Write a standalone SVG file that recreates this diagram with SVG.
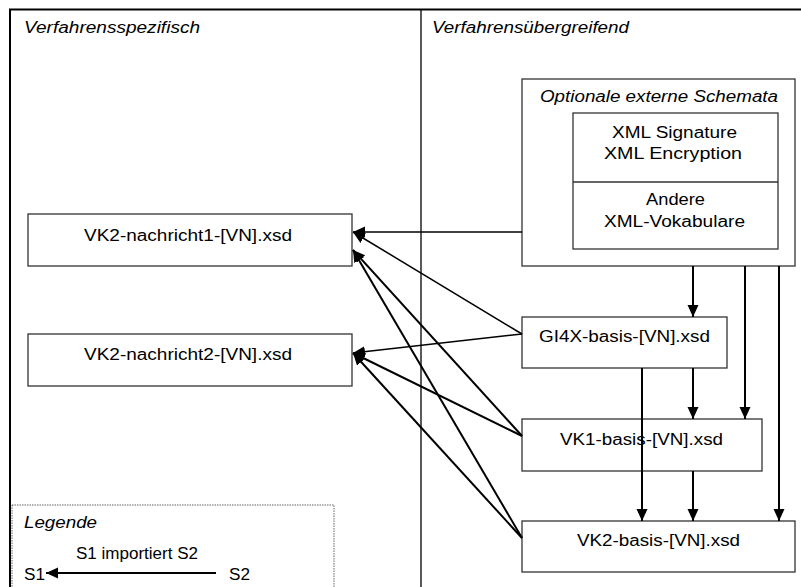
<svg xmlns="http://www.w3.org/2000/svg" width="801" height="587" viewBox="0 0 801 587">
<defs>
<style>
text{font-family:"Liberation Sans",Arial,sans-serif;font-size:16px;fill:#000}
.it{font-style:italic}
.box{fill:#fff;stroke:#333;stroke-width:1.3}
.c{stroke:#000;fill:none;stroke-width:2;marker-end:url(#ah)}
.t{stroke-width:1.5}
</style>
<marker id="ah" markerUnits="userSpaceOnUse" markerWidth="13" markerHeight="12" refX="12" refY="5.5" orient="auto">
<path d="M0,0 L12,5.5 L0,11 Z" fill="#000"/>
</marker>
</defs>
<rect width="801" height="587" fill="#fff"/>
<g id="frame">
<path d="M10,600 V9.5 H820" fill="none" stroke="#000" stroke-width="2"/>
<line x1="421" y1="9" x2="421" y2="600" stroke="#000" stroke-width="1.3"/>
<text class="it" x="24" y="33" textLength="176" lengthAdjust="spacingAndGlyphs">Verfahrensspezifisch</text>
<text class="it" x="432" y="33" textLength="197" lengthAdjust="spacingAndGlyphs">Verfahrensübergreifend</text>
</g>
<g id="optionale">
<rect class="box" x="522" y="79" width="273" height="187"/>
<text class="it" x="540" y="102" textLength="238" lengthAdjust="spacingAndGlyphs">Optionale externe Schemata</text>
<rect class="box" x="573" y="113" width="205" height="136"/>
<line x1="573" y1="182" x2="778" y2="182" stroke="#333" stroke-width="1.3"/>
<text x="612" y="138" textLength="125" lengthAdjust="spacingAndGlyphs">XML Signature</text>
<text x="604" y="159" textLength="138" lengthAdjust="spacingAndGlyphs">XML Encryption</text>
<text x="646" y="205" textLength="59" lengthAdjust="spacingAndGlyphs">Andere</text>
<text x="604" y="227" textLength="141" lengthAdjust="spacingAndGlyphs">XML-Vokabulare</text>
</g>
<g id="nachricht1">
<rect class="box" x="28" y="214" width="324" height="52"/>
<text x="84" y="241" textLength="208" lengthAdjust="spacingAndGlyphs">VK2-nachricht1-[VN].xsd</text>
</g>
<g id="nachricht2">
<rect class="box" x="28" y="334" width="324" height="52"/>
<text x="84" y="360" textLength="208" lengthAdjust="spacingAndGlyphs">VK2-nachricht2-[VN].xsd</text>
</g>
<g id="gi4x">
<rect class="box" x="522" y="317" width="205" height="51"/>
<text x="539" y="342" textLength="171" lengthAdjust="spacingAndGlyphs">GI4X-basis-[VN].xsd</text>
</g>
<g id="vk1">
<rect class="box" x="522" y="419" width="240" height="52"/>
<text x="560" y="445" textLength="163" lengthAdjust="spacingAndGlyphs">VK1-basis-[VN].xsd</text>
</g>
<g id="vk2">
<rect class="box" x="522" y="521" width="273" height="51"/>
<text x="577" y="546" textLength="163" lengthAdjust="spacingAndGlyphs">VK2-basis-[VN].xsd</text>
</g>
<g id="connectors">
<line class="c t" x1="522" y1="232" x2="353" y2="232"/>
<line class="c t" x1="522" y1="334" x2="353" y2="232"/>
<line class="c" x1="522" y1="436" x2="353" y2="250"/>
<line class="c" x1="522" y1="538" x2="353" y2="250"/>
<line class="c t" x1="522" y1="334" x2="353" y2="353"/>
<line class="c" x1="522" y1="436" x2="353" y2="353"/>
<line class="c" x1="522" y1="538" x2="353" y2="353"/>
<line class="c" x1="693" y1="266" x2="693" y2="317"/>
<line class="c" x1="745" y1="266" x2="745" y2="419"/>
<line class="c" x1="779" y1="266" x2="779" y2="521"/>
<line class="c" x1="693" y1="368" x2="693" y2="419"/>
<line class="c" x1="642" y1="368" x2="642" y2="521"/>
<line class="c" x1="693" y1="471" x2="693" y2="521"/>
</g>
<g id="legende">
<rect x="12" y="505" width="322" height="100" fill="none" stroke="#666" stroke-width="1" stroke-dasharray="1.5,1"/>
<text class="it" x="24" y="528" textLength="73" lengthAdjust="spacingAndGlyphs">Legende</text>
<text x="76" y="559" textLength="122" lengthAdjust="spacingAndGlyphs">S1 importiert S2</text>
<text x="24" y="580" textLength="21" lengthAdjust="spacingAndGlyphs">S1</text>
<text x="229" y="580" textLength="21" lengthAdjust="spacingAndGlyphs">S2</text>
<line class="c" x1="216" y1="573" x2="46" y2="573"/>
</g>
</svg>
